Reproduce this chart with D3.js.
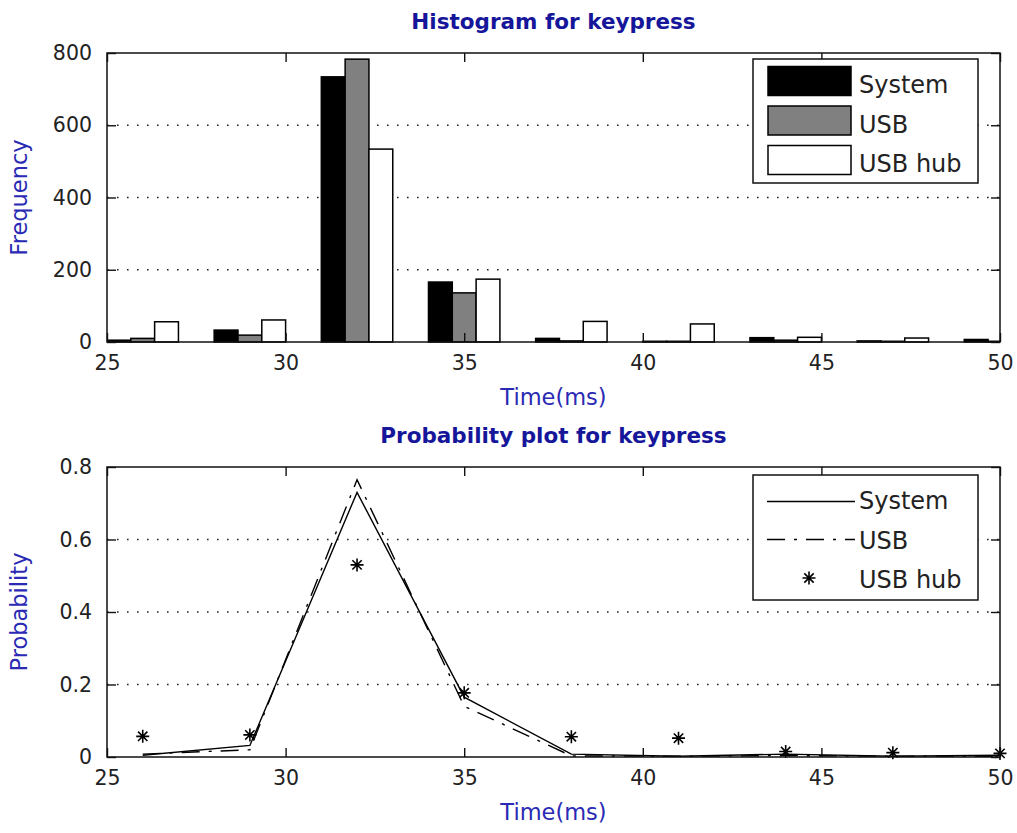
<!DOCTYPE html>
<html>
<head>
<meta charset="utf-8">
<script src="https://cdn.jsdelivr.net/npm/d3@7"></script>
<style>
  html, body { margin: 0; padding: 0; background: #fff; }
  svg { display: block; }
  text { font-family: "DejaVu Sans", "Liberation Sans", Arial, sans-serif; }
</style>
</head>
<body>
<svg id="chart" width="1017" height="833"></svg>
<script>
// Bin centres (ms) of the keypress latency histogram
const binCenters = [26, 29, 32, 35, 38, 41, 44, 47, 50];
const seriesNames = ["System", "USB", "USB hub"];

// Histogram counts per bin
const countSystem = [5, 33, 734, 166, 10, 2, 12, 3, 7];
const countUSB    = [10, 19, 783, 136, 3, 2, 5, 2, 2];
const countHub    = [56, 61, 534, 174, 57, 50, 13, 11, 8];

// Probability per bin
const probSystem = [0.005, 0.032, 0.73, 0.165, 0.008, 0.002, 0.008, 0.002, 0.005];
const probUSB    = [0.008, 0.02, 0.765, 0.14, 0.003, 0.002, 0.004, 0.002, 0.002];
const probHub    = [0.057, 0.061, 0.53, 0.177, 0.056, 0.052, 0.015, 0.012, 0.01];

// Axis ticks
const xTicks = [25, 30, 35, 40, 45, 50];
const countTicks = [0, 200, 400, 600, 800];
const probTicks = [0, 0.2, 0.4, 0.6, 0.8];

const svg = d3.select("#chart");
const L = 107, R = 1000;
const tickLen = 9;
const titleColor = "#16169a";
const labelColor = "#2a2ab4";
const tickFont = 20.5;

const x = d3.scaleLinear().domain([25, 50]).range([L, R]);

function drawFrame(g, y, yTicks, fmt, top, bottom, title, ylabel) {
  // dotted horizontal grid
  g.append("g").selectAll("line")
    .data(yTicks.filter(t => t > yTicks[0] && t < yTicks[yTicks.length - 1]))
    .join("line")
    .attr("x1", L).attr("x2", R)
    .attr("y1", d => y(d)).attr("y2", d => y(d))
    .attr("stroke", "#222").attr("stroke-width", 1.6)
    .attr("stroke-dasharray", "1.6,8.4");
}

function drawAxes(g, y, yTicks, fmt, top, bottom, title, ylabel) {
  // bottom axis with inward ticks
  const xb = d3.axisBottom(x).tickValues(xTicks).tickSize(-tickLen).tickPadding(13).tickFormat(d3.format("d"));
  const xt = d3.axisTop(x).tickValues(xTicks).tickSize(-tickLen).tickFormat("");
  const yl = d3.axisLeft(y).tickValues(yTicks).tickSize(-tickLen).tickPadding(15).tickFormat(fmt);
  const yr = d3.axisRight(y).tickValues(yTicks).tickSize(-tickLen).tickFormat("");

  const styleAxis = a => {
    a.select(".domain").remove();
    a.selectAll("line").attr("stroke", "#111").attr("stroke-width", 1.4);
    a.selectAll("text").attr("fill", "#222").style("font-size", tickFont + "px")
      .style("font-family", "'DejaVu Sans', sans-serif");
  };
  g.append("g").attr("transform", `translate(0,${bottom})`).call(xb).call(styleAxis);
  g.append("g").attr("transform", `translate(0,${top})`).call(xt).call(styleAxis);
  g.append("g").attr("transform", `translate(${L},0)`).call(yl).call(styleAxis);
  g.append("g").attr("transform", `translate(${R},0)`).call(yr).call(styleAxis);

  g.append("rect").attr("x", L).attr("y", top).attr("width", R - L).attr("height", bottom - top)
    .attr("fill", "none").attr("stroke", "#111").attr("stroke-width", 1.5);

  g.append("text").attr("x", (L + R) / 2).attr("y", top - 24)
    .attr("text-anchor", "middle").attr("fill", titleColor)
    .style("font-size", "21.5px").style("font-weight", "bold").text(title);

  g.append("text").attr("x", (L + R) / 2).attr("y", bottom + 63)
    .attr("text-anchor", "middle").attr("fill", labelColor)
    .style("font-size", "22.5px").text("Time(ms)");

  g.append("text")
    .attr("transform", `translate(27,${(top + bottom) / 2}) rotate(-90)`)
    .attr("text-anchor", "middle").attr("fill", labelColor)
    .style("font-size", "22.5px").text(ylabel);
}

// ---------- Histogram ----------
const top1 = 53, bot1 = 342;
const y1 = d3.scaleLinear().domain([0, 800]).range([bot1, top1]);
const g1 = svg.append("g");

svg.append("defs").append("clipPath").attr("id", "clip1")
  .append("rect").attr("x", L).attr("y", top1 - 2).attr("width", R - L).attr("height", bot1 - top1 + 4);

drawFrame(g1, y1, countTicks, d3.format("d"), top1, bot1);

const counts = [countSystem, countUSB, countHub];
const fills = ["#000000", "#808080", "#ffffff"];
const barW = 2 / 3; // group spans two ms, three bars per group
const bars = [];
counts.forEach((arr, k) => arr.forEach((v, i) => bars.push({ k, c: binCenters[i], v })));

g1.append("g").attr("clip-path", "url(#clip1)")
  .selectAll("rect").data(bars).join("rect")
  .attr("x", d => x(d.c - 1 + d.k * barW))
  .attr("width", d => x(d.c - 1 + (d.k + 1) * barW) - x(d.c - 1 + d.k * barW))
  .attr("y", d => y1(d.v))
  .attr("height", d => y1(0) - y1(d.v))
  .attr("fill", d => fills[d.k])
  .attr("stroke", "#000").attr("stroke-width", 1.5);

drawAxes(g1, y1, countTicks, d3.format("d"), top1, bot1, "Histogram for keypress", "Frequency");

// legend (histogram)
const lg1 = g1.append("g");
lg1.append("rect").attr("x", 753).attr("y", 59).attr("width", 225).attr("height", 124)
  .attr("fill", "#fff").attr("stroke", "#111").attr("stroke-width", 1.5);
seriesNames.forEach((name, k) => {
  const yy = 66.5 + k * 39.5;
  lg1.append("rect").attr("x", 768).attr("y", yy).attr("width", 83).attr("height", 29)
    .attr("fill", fills[k]).attr("stroke", "#000").attr("stroke-width", 1.5);
  lg1.append("text").attr("x", 859).attr("y", yy + 26.5)
    .attr("fill", "#222").style("font-size", "24px").text(name);
});

// ---------- Probability plot ----------
const top2 = 467, bot2 = 757;
const y2 = d3.scaleLinear().domain([0, 0.8]).range([bot2, top2]);
const g2 = svg.append("g");

const fmtP = d => d === 0 ? "0" : d3.format(".1f")(d);
drawFrame(g2, y2, probTicks, fmtP, top2, bot2);

const line = d3.line().x((d, i) => x(binCenters[i])).y(d => y2(d));

g2.append("path").datum(probSystem).attr("d", line)
  .attr("fill", "none").attr("stroke", "#000").attr("stroke-width", 1.4);
g2.append("path").datum(probUSB).attr("d", line)
  .attr("fill", "none").attr("stroke", "#000").attr("stroke-width", 1.4)
  .attr("stroke-dasharray", "18,9,3,9");

const starPath = s => {
  const a = s, b = s * 0.72;
  return `M${-a},0L${a},0M0,${-a}L0,${a}M${-b},${-b}L${b},${b}M${-b},${b}L${b},${-b}`;
};
g2.append("g").selectAll("path").data(probHub).join("path")
  .attr("transform", (d, i) => `translate(${x(binCenters[i])},${y2(d)})`)
  .attr("d", starPath(6.5))
  .attr("fill", "none").attr("stroke", "#000").attr("stroke-width", 1.6);

drawAxes(g2, y2, probTicks, fmtP, top2, bot2, "Probability plot for keypress", "Probability");

// legend (probability)
const lg2 = g2.append("g");
lg2.append("rect").attr("x", 753).attr("y", 475).attr("width", 225).attr("height", 125)
  .attr("fill", "#fff").attr("stroke", "#111").attr("stroke-width", 1.5);
lg2.append("line").attr("x1", 767).attr("x2", 855).attr("y1", 501.5).attr("y2", 501.5)
  .attr("stroke", "#000").attr("stroke-width", 1.4);
lg2.append("line").attr("x1", 767).attr("x2", 855).attr("y1", 539.5).attr("y2", 539.5)
  .attr("stroke", "#000").attr("stroke-width", 1.4).attr("stroke-dasharray", "18,9,3,9");
lg2.append("path").attr("transform", "translate(809,578)").attr("d", starPath(6.5))
  .attr("fill", "none").attr("stroke", "#000").attr("stroke-width", 1.6);
seriesNames.forEach((name, k) => {
  lg2.append("text").attr("x", 859).attr("y", 509 + k * 39.5)
    .attr("fill", "#222").style("font-size", "24px").text(name);
});
</script>
</body>
</html>
